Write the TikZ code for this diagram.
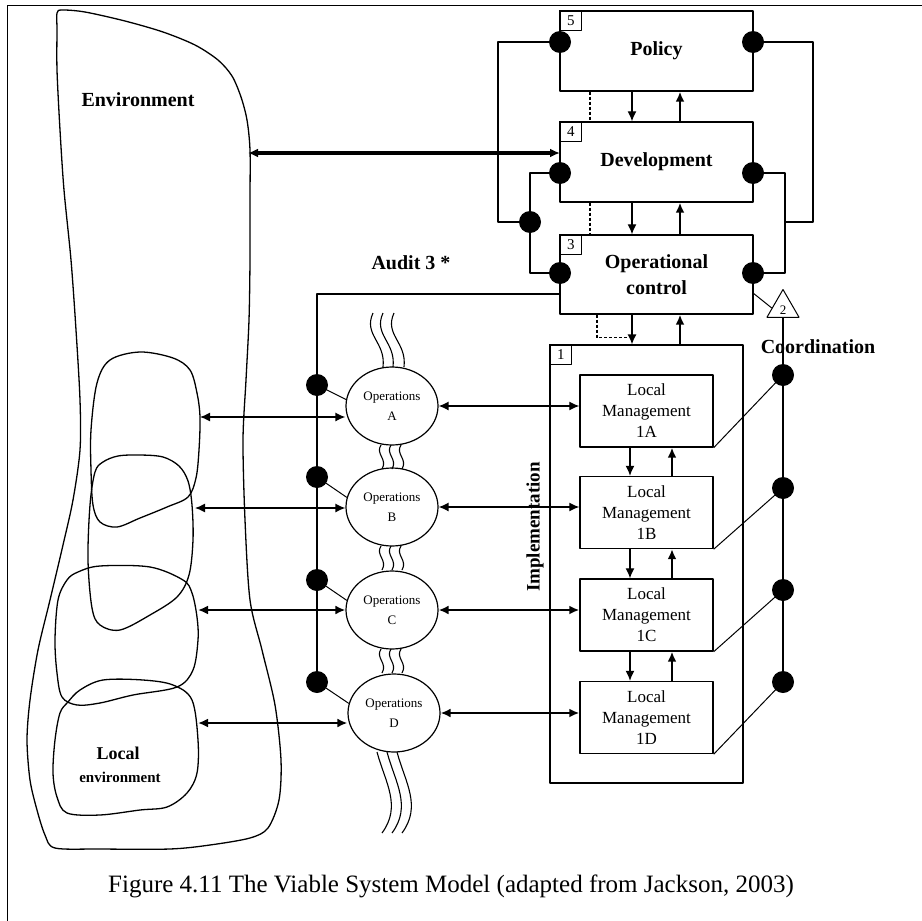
\documentclass[tikz,border=0pt]{standalone}
\usepackage{fontspec}
\setmainfont{Liberation Serif}
\usetikzlibrary{arrows.meta,calc,shapes.geometric}
\begin{document}
\begin{tikzpicture}[x=1pt,y=-1pt,line join=round,
  every node/.style={inner sep=0pt},
  box/.style={draw,line width=1.4pt,inner sep=0pt},
  bigbox/.style={box,minimum width=193pt,minimum height=80pt,font=\fontsize{20}{26}\selectfont\bfseries,align=center},
  lmbox/.style={box,minimum width=133pt,minimum height=72pt,align=center,font=\fontsize{17}{21}\selectfont},
  numbox/.style={draw,line width=1pt,minimum width=22pt,minimum height=20pt,anchor=north west,font=\fontsize{15}{15}\selectfont},
  blk/.style={circle,fill=black,minimum size=22pt,inner sep=0pt},
  opnode/.style={draw,line width=1.2pt,ellipse,minimum width=92pt,minimum height=78pt,align=center,font=\fontsize{13}{20}\selectfont},
  lbl/.style={font=\fontsize{20}{22}\selectfont\bfseries},
  ln/.style={line width=1.3pt},
  lnthin/.style={line width=1pt},
  lnthick/.style={line width=2.8pt},
  tip/.style={-{Latex[length=10pt,width=9pt]}},
  tips/.style={{Latex[length=10pt,width=9pt]}-{Latex[length=10pt,width=9pt]}},
  wave/.style={line width=1.1pt},
  envline/.style={line width=1.3pt}
]
\useasboundingbox (0,0) rectangle (922,921);
% frame
\draw[line width=0.8pt] (7,921) -- (7,5) -- (922,5);

% environment shapes
\draw[envline] plot[smooth cycle,tension=0.5] coordinates {(57,13) (62,10) (85,12) (125,21) (163,32) (195,45) (218,60) (232,76) (241,97) (247,120) (250,150) (250,200) (250,260) (249,320) (246,380) (243,440) (245,520) (250,600) (262,650) (275,705) (281,760) (279,800) (268,828) (250,838) (210,845) (170,849) (100,849) (55,848) (45,835) (37,810) (30,780) (27,740) (30,700) (38,650) (50,600) (63,545) (73,500) (80,450) (80,400) (76,330) (71,260) (64,190) (60,130) (57,70) (57,30)};
% local environment A (top)
\draw[envline] plot[smooth cycle,tension=0.55] coordinates {(97,383) (110,360) (140,352) (173,358) (190,370) (197,393) (200,417) (199,450) (196,478) (188,497) (167,507) (140,518) (117,527) (100,522) (93,505) (91,470) (91,430)};
% local environment B
\draw[envline] plot[smooth cycle,tension=0.55] coordinates {(95,472) (103,462) (118,456) (140,455) (163,457) (179,466) (188,481) (192,505) (193,540) (189,575) (177,597) (150,615) (120,630) (100,625) (92,608) (88,560) (90,505)};
% local environment C
\draw[envline] plot[smooth cycle,tension=0.55] coordinates {(100,566) (150,567) (183,580) (192,593) (197,617) (198,640) (193,670) (177,687) (133,695) (100,703) (77,705) (62,697) (57,673) (55,640) (58,600) (67,580) (78,572)};
% local environment D
\draw[envline] plot[smooth cycle,tension=0.55] coordinates {(103,680) (143,680) (173,685) (192,700) (198,740) (197,773) (187,793) (167,807) (140,810) (100,815) (67,813) (57,797) (53,773) (55,740) (60,713) (68,702) (80,690)};

\node[lbl] (envl) at (138,100) {Environment};
\node[font=\fontsize{18}{18}\selectfont\bfseries] (locl) at (118,753) {Local};
\node[font=\fontsize{15}{15}\selectfont\bfseries] (loce) at (120,777) {environment};

\coordinate (eEnv) at (248,153);
\coordinate (eA) at (200,417);
\coordinate (eB) at (195,508);
\coordinate (eC) at (198,610);
\coordinate (eD) at (198,723);

% management boxes
\node[bigbox] (pol) at (656.5,51) {Policy};
\node[bigbox] (dev) at (656.5,162) {Development};
\node[bigbox,minimum height=79pt] (opc) at (656.5,274.5) {Operational\\control};
\node[box,line width=1.2pt,minimum width=193pt,minimum height=438pt] (sys) at (646.5,564) {};
\node[numbox] (n5) at (pol.north west) {5};
\node[numbox] (n4) at (dev.north west) {4};
\node[numbox] (n3) at (opc.north west) {3};
\node[numbox] (n1) at (sys.north west) {1};

\node[lmbox] (lma) at (646.5,411) {Local\\Management\\1A};
\node[lmbox] (lmb) at (646.5,512.5) {Local\\Management\\1B};
\node[lmbox] (lmc) at (646.5,615) {Local\\Management\\1C};
\node[lmbox] (lmd) at (646.5,717.5) {Local\\Management\\1D};

% operations
\node[opnode] (oa) at (392,406) {Operations\\A};
\node[opnode] (ob) at (392,507) {Operations\\B};
\node[opnode] (oc) at (392,610) {Operations\\C};
\node[opnode] (od) at (394,713) {Operations\\D};

% dots on management boxes
\node[blk] (pl) at (560,42) {};
\node[blk] (pr) at (753,42) {};
\node[blk] (dl) at (560,173) {};
\node[blk] (dr) at (753,173) {};
\node[blk] (ol) at (560,273) {};
\node[blk] (or) at (753,273) {};
\node[blk] (jl) at (530,222) {};
\coordinate (rj) at (785,222);

\draw[ln] (pl.center) -- ++(-62,0) |- (jl.center);
\draw[ln] (dl.center) -| (jl.center);
\draw[ln] (jl.center) |- (ol.center);
\draw[ln] (pr.center) -- ++(60,0) |- (rj);
\draw[ln] (dr.center) -| (rj) |- (or.center);

% vertical channels
\draw[ln,tip] ([xshift=-24.5pt]pol.south) -- ([xshift=-24.5pt]dev.north);
\draw[lnthick,tip] ([xshift=23.5pt]dev.north) -- ([xshift=23.5pt]pol.south);
\draw[ln,densely dashed] ([xshift=-66.5pt]pol.south) -- ([xshift=-66.5pt]dev.north);
\draw[ln,tip] ([xshift=-24.5pt]dev.south) -- ([xshift=-24.5pt]opc.north);
\draw[lnthick,tip] ([xshift=23.5pt]opc.north) -- ([xshift=23.5pt]dev.south);
\draw[ln,densely dashed] ([xshift=-66.5pt]dev.south) -- ([xshift=-66.5pt]opc.north);
\draw[ln,tip] ([xshift=-24.5pt]opc.south) -- ([xshift=-14.5pt]sys.north);
\draw[lnthick,tip] ([xshift=33.5pt]sys.north) -- ([xshift=23.5pt]opc.south);
\draw[ln,densely dashed] ([xshift=-59.5pt]opc.south) -- ++(0,23) -- ++(30,0);

\foreach \u/\l in {lma/lmb,lmb/lmc,lmc/lmd}{
  \draw[ln,tip] ([xshift=-16.5pt]\u.south) -- ([xshift=-16.5pt]\l.north);
  \draw[lnthick,tip] ([xshift=25.5pt]\l.north) -- ([xshift=25.5pt]\u.south);
}

% environment <-> development
\coordinate (devin) at (560,153);
\draw[line width=4.5pt,tips] (eEnv) -- (devin);

% audit
\coordinate (au) at (560,294);
\node[blk] (a1) at (317,385) {};
\node[blk] (a2) at (317,477) {};
\node[blk] (a3) at (317,580) {};
\node[blk] (a4) at (317,682) {};
\draw[ln] (au) -| (a4.center);
\node[lbl] (aud) at (411,263) {Audit 3 *};
\draw[lnthin] (a1.center) -- (oa.172);
\draw[lnthin] (a2.center) -- (ob.168);
\draw[lnthin] (a3.center) -- (oc.168);
\draw[lnthin] (a4.center) -- (od.168);

% local environment <-> operations
\draw[ln,tips] (eA) -- (eA -| oa.west);
\draw[ln,tips] (eB) -- (eB -| ob.west);
\draw[lnthick,tips] (eC) -- (eC -| oc.west);
\draw[lnthick,tips] (eD) -- (eD -| od.west);

% operations <-> local management
\draw[ln,tips] (oa.east) -- (oa.east -| lma.west);
\draw[ln,tips] (ob.east) -- (ob.east -| lmb.west);
\draw[lnthick,tips] (oc.east) -- (oc.east -| lmc.west);
\draw[lnthick,tips] (od.east) -- (od.east -| lmd.west);

\node[rotate=90,font=\fontsize{19}{19}\selectfont\bfseries] (impl) at (535,527) {Implementation};

% wavy lines
\foreach \d in {0,10,21}{
  \draw[wave] (373+\d,313) .. controls (363+\d,335) and (386+\d,342) .. (383+\d,367);
}
\foreach \yy in {445,546,649}{
  \foreach \d in {0,10,20}{
    \draw[wave] (381+\d,\yy) .. controls (375+\d,\yy+9) and (388+\d,\yy+14) .. (382+\d,\yy+24);
  }
}
\foreach \d in {0,10,20}{
  \draw[wave] (377+\d,752) .. controls (385+\d,782) and (402+\d,806) .. (382+\d,833);
}

% coordination
\node[draw,line width=1pt,regular polygon,regular polygon sides=3,minimum size=37pt] (tri) at (783,308) {};
\node[font=\fontsize{13}{13}\selectfont] (two) at (783,310) {2};
\node[blk] (c1) at (783,375) {};
\node[blk] (c2) at (783,488) {};
\node[blk] (c3) at (783,590) {};
\node[blk] (c4) at (783,682) {};
\draw[ln] (tri.south) -- (c4.center);
\draw[lnthin] ([yshift=-19pt]opc.east) -- (tri.west);
\draw[lnthin] (c1.center) -- (lma.south east);
\draw[lnthin] (c2.center) -- (lmb.south east);
\draw[lnthin] (c3.center) -- (lmc.south east);
\draw[lnthin] (c4.center) -- (lmd.south east);
\node[lbl] (coord) at (818,347) {Coordination};

% caption
\node[anchor=west,font=\fontsize{25}{25}\selectfont] (cap) at (108,886) {Figure 4.11 The Viable System Model (adapted from Jackson, 2003)};
\end{tikzpicture}
\end{document}
